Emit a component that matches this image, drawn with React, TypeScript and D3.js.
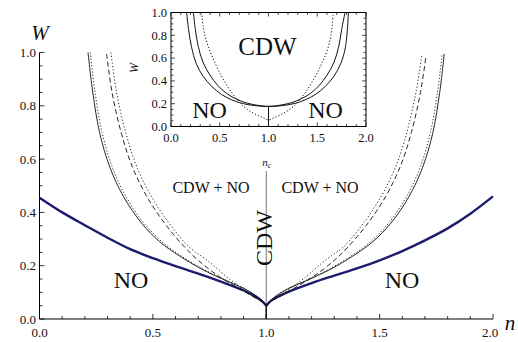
import React from "react";
import * as d3 from "d3";

// ---------- main plot data ----------
const blueLeftN = [0, 0.1, 0.2, 0.3, 0.4, 0.5, 0.6, 0.7, 0.8, 0.9, 0.95, 0.98, 1.0];
const blueLeftW = [0.455, 0.4, 0.352, 0.305, 0.262, 0.228, 0.198, 0.17, 0.14, 0.107, 0.085, 0.068, 0.05];
const blueRightN = [1.0, 1.02, 1.05, 1.1, 1.2, 1.3, 1.4, 1.5, 1.6, 1.7, 1.8, 1.9, 2.0];
const blueRightW = [0.05, 0.068, 0.083, 0.103, 0.135, 0.163, 0.19, 0.22, 0.255, 0.295, 0.34, 0.395, 0.46];

const solidLeftN = [0.214, 0.235, 0.265, 0.31, 0.37, 0.45, 0.53, 0.62, 0.72, 0.82, 0.9, 0.95, 0.98, 1.0];
const solidLeftW = [1.0, 0.85, 0.7, 0.57, 0.46, 0.36, 0.29, 0.235, 0.185, 0.145, 0.115, 0.09, 0.07, 0.05];
const dot1LeftN = [0.224, 0.245, 0.276, 0.321, 0.381, 0.46, 0.54, 0.628, 0.727, 0.825, 0.903, 0.952, 0.981, 1.0];
const dot1LeftW = [1.0, 0.85, 0.7, 0.57, 0.46, 0.36, 0.29, 0.235, 0.185, 0.145, 0.115, 0.09, 0.07, 0.05];
const dashLeftN = [0.296, 0.32, 0.36, 0.41, 0.48, 0.56, 0.64, 0.7, 0.8, 0.9, 0.95, 0.98, 1.0];
const dashLeftW = [0.995, 0.85, 0.7, 0.57, 0.45, 0.35, 0.27, 0.22, 0.155, 0.105, 0.08, 0.065, 0.05];
const dot2LeftN = [0.315, 0.34, 0.38, 0.43, 0.5, 0.58, 0.66, 0.74, 0.83, 0.91, 0.955, 0.982, 1.0];
const dot2LeftW = [1.0, 0.85, 0.7, 0.57, 0.45, 0.35, 0.27, 0.22, 0.155, 0.105, 0.08, 0.065, 0.05];

const solidRightN = [1.0, 1.02, 1.05, 1.1, 1.18, 1.28, 1.38, 1.47, 1.55, 1.63, 1.69, 1.735, 1.765, 1.785];
const solidRightW = [0.05, 0.07, 0.09, 0.115, 0.145, 0.185, 0.235, 0.29, 0.36, 0.46, 0.57, 0.7, 0.85, 0.995];
const dot1RightN = [1.0, 1.019, 1.048, 1.097, 1.175, 1.273, 1.372, 1.46, 1.54, 1.619, 1.679, 1.724, 1.755, 1.776];
const dot1RightW = [0.05, 0.07, 0.09, 0.115, 0.145, 0.185, 0.235, 0.29, 0.36, 0.46, 0.57, 0.7, 0.85, 0.995];
const dashRightN = [1.0, 1.02, 1.05, 1.1, 1.2, 1.3, 1.36, 1.44, 1.52, 1.59, 1.64, 1.68, 1.705];
const dashRightW = [0.05, 0.065, 0.08, 0.105, 0.155, 0.22, 0.27, 0.35, 0.45, 0.57, 0.7, 0.85, 0.99];
const dot2RightN = [1.0, 1.018, 1.045, 1.09, 1.17, 1.26, 1.34, 1.42, 1.5, 1.57, 1.62, 1.66, 1.686];
const dot2RightW = [0.05, 0.065, 0.08, 0.105, 0.155, 0.22, 0.27, 0.35, 0.45, 0.57, 0.7, 0.85, 0.99];

const mainXTicks = ["0.0", "0.5", "1.0", "1.5", "2.0"];
const mainYTicks = ["0.0", "0.2", "0.4", "0.6", "0.8", "1.0"];

// ---------- inset data ----------
const inOuterN = [0.161, 0.18, 0.21, 0.26, 0.33, 0.42, 0.52, 0.62, 0.72, 0.82, 0.92, 1.0, 1.08, 1.18, 1.28, 1.38, 1.48, 1.58, 1.67, 1.74, 1.79, 1.82];
const inOuterW = [1.0, 0.85, 0.7, 0.55, 0.44, 0.35, 0.28, 0.235, 0.205, 0.188, 0.178, 0.175, 0.178, 0.188, 0.205, 0.235, 0.28, 0.35, 0.44, 0.55, 0.7, 1.0];
const inInnerN = [0.23, 0.25, 0.28, 0.33, 0.4, 0.48, 0.57, 0.66, 0.76, 0.86, 0.94, 1.0, 1.06, 1.14, 1.24, 1.34, 1.43, 1.52, 1.6, 1.67, 1.72, 1.75, 1.785];
const inInnerW = [1.0, 0.85, 0.7, 0.56, 0.45, 0.36, 0.29, 0.245, 0.21, 0.19, 0.18, 0.177, 0.18, 0.19, 0.21, 0.245, 0.29, 0.36, 0.45, 0.56, 0.7, 0.85, 1.0];
const inDotN = [0.315, 0.33, 0.36, 0.4, 0.45, 0.5, 0.56, 0.62, 0.68, 0.74, 0.8, 0.87, 0.94, 1.0, 1.06, 1.13, 1.2, 1.26, 1.32, 1.38, 1.44, 1.5, 1.55, 1.6, 1.64, 1.665];
const inDotW = [1.0, 0.88, 0.76, 0.66, 0.56, 0.47, 0.38, 0.3, 0.235, 0.18, 0.14, 0.105, 0.078, 0.058, 0.078, 0.105, 0.14, 0.18, 0.235, 0.3, 0.38, 0.47, 0.56, 0.66, 0.8, 1.0];

const insetXTicks = ["0.0", "0.5", "1.0", "1.5", "2.0"];
const insetYTicks = ["0.0", "0.2", "0.4", "0.6", "0.8", "1.0"];

const SERIF = "'Liberation Serif', 'Times New Roman', serif";
const NAVY = "#1c1c6e";

function zip(ns: number[], ws: number[]): [number, number][] {
  return ns.map((n, i) => [n, ws[i]]);
}

export default function App() {
  const W = 518, H = 342;
  // main scales
  const x = d3.scaleLinear().domain([0, 2]).range([39.5, 493]);
  const y = d3.scaleLinear().domain([0, 1]).range([319, 52.5]);
  // inset scales
  const ix = d3.scaleLinear().domain([0, 2]).range([171, 366]);
  const iy = d3.scaleLinear().domain([0, 1]).range([126.5, 12.5]);

  const line = d3.line<[number, number]>().x(d => x(d[0])).y(d => y(d[1])).curve(d3.curveCatmullRom.alpha(0.5));
  const iline = d3.line<[number, number]>().x(d => ix(d[0])).y(d => iy(d[1])).curve(d3.curveCatmullRom.alpha(0.5));

  const xMinor = d3.range(0, 21).map(i => i / 10);
  const yMinor = d3.range(0, 21).map(i => i / 20);

  const blackCurves = [
    { d: zip(solidLeftN, solidLeftW), dash: "none" },
    { d: zip(dot1LeftN, dot1LeftW), dash: "1.2,2" },
    { d: zip(dashLeftN, dashLeftW), dash: "5,3" },
    { d: zip(dot2LeftN, dot2LeftW), dash: "1.2,2.2" },
    { d: zip(solidRightN, solidRightW), dash: "none" },
    { d: zip(dot1RightN, dot1RightW), dash: "1.2,2" },
    { d: zip(dashRightN, dashRightW), dash: "5,3" },
    { d: zip(dot2RightN, dot2RightW), dash: "1.2,2.2" },
  ];

  return (
    <svg width={W} height={H} style={{ position: "absolute", left: 0, top: 0, background: "#fff" }} fontFamily={SERIF}>
      <rect x={0} y={0} width={W} height={H} fill="#fff" />
      {/* main axes */}
      <line x1={x(0)} x2={x(2)} y1={y(0)} y2={y(0)} stroke="#000" strokeWidth={1} />
      <line x1={x(0)} x2={x(0)} y1={y(0)} y2={y(1)} stroke="#000" strokeWidth={1} />
      {xMinor.map((v, i) => (
        <line key={"xm" + i} x1={x(v)} x2={x(v)} y1={y(0)} y2={y(0) - (i % 5 === 0 ? 5 : 3)} stroke="#000" strokeWidth={0.8} />
      ))}
      {yMinor.map((v, i) => (
        <line key={"ym" + i} x1={x(0)} x2={x(0) + (i % 4 === 0 ? 5 : 3)} y1={y(v)} y2={y(v)} stroke="#000" strokeWidth={0.8} />
      ))}
      {mainXTicks.map(t => (
        <text key={"xt" + t} x={x(+t) - (t === "2.0" ? 3 : 0)} y={337} fontSize={13} textAnchor="middle" fill="#111">{t}</text>
      ))}
      {mainYTicks.map(t => (
        <text key={"yt" + t} x={36} y={y(+t) + 4.5} fontSize={13} textAnchor="end" fill="#111">{t}</text>
      ))}
      <text x={40} y={40} fontSize={21} fontStyle="italic" textAnchor="middle" fill="#111">W</text>
      <text x={510} y={330} fontSize={21} fontStyle="italic" textAnchor="middle" fill="#111">n</text>

      {/* n_c vertical line */}
      <line x1={x(1)} x2={x(1)} y1={171} y2={y(0)} stroke="#777" strokeWidth={1} />
      <text x={x(1) - 4} y={166} fontSize={11} fontStyle="italic" fill="#111">n<tspan fontSize={8} dy={2}>c</tspan></text>

      {/* blue boundaries */}
      <path d={line(zip(blueLeftN, blueLeftW)) || ""} fill="none" stroke={NAVY} strokeWidth={2.4} />
      <path d={line(zip(blueRightN, blueRightW)) || ""} fill="none" stroke={NAVY} strokeWidth={2.4} />

      {/* black boundaries */}
      {blackCurves.map((c, i) => (
        <path key={"bc" + i} d={line(c.d) || ""} fill="none" stroke="#111" strokeWidth={0.9} strokeDasharray={c.dash} />
      ))}
      <line x1={x(1)} x2={x(1)} y1={y(0.05)} y2={y(0)} stroke="#111" strokeWidth={1.5} />

      {/* main labels */}
      <text x={211} y={193} fontSize={16} textAnchor="middle" fill="#111">CDW + NO</text>
      <text x={320} y={193} fontSize={16} textAnchor="middle" fill="#111">CDW + NO</text>
      <text transform={`translate(264,238) rotate(-90)`} fontSize={24} textAnchor="middle" dominantBaseline="central" fill="#111">CDW</text>
      <text x={131} y={288} fontSize={24} textAnchor="middle" fill="#111">NO</text>
      <text x={402} y={288} fontSize={24} textAnchor="middle" fill="#111">NO</text>

      {/* inset */}
      <g>
        <defs>
          <clipPath id="insetClip">
            <rect x={ix(0)} y={iy(1)} width={ix(2) - ix(0)} height={iy(0) - iy(1)} />
          </clipPath>
        </defs>
        <rect x={ix(0)} y={iy(1)} width={ix(2) - ix(0)} height={iy(0) - iy(1)} fill="#fff" stroke="#000" strokeWidth={1} />
        {xMinor.map((v, i) => (
          <g key={"ixm" + i}>
            <line x1={ix(v)} x2={ix(v)} y1={iy(0)} y2={iy(0) - (i % 5 === 0 ? 4 : 2.5)} stroke="#000" strokeWidth={0.7} />
            <line x1={ix(v)} x2={ix(v)} y1={iy(1)} y2={iy(1) + (i % 5 === 0 ? 4 : 2.5)} stroke="#000" strokeWidth={0.7} />
          </g>
        ))}
        {yMinor.map((v, i) => (
          <g key={"iym" + i}>
            <line x1={ix(0)} x2={ix(0) + (i % 4 === 0 ? 4 : 2.5)} y1={iy(v)} y2={iy(v)} stroke="#000" strokeWidth={0.7} />
            <line x1={ix(2)} x2={ix(2) - (i % 4 === 0 ? 4 : 2.5)} y1={iy(v)} y2={iy(v)} stroke="#000" strokeWidth={0.7} />
          </g>
        ))}
        {insetXTicks.map(t => (
          <text key={"ixt" + t} x={ix(+t)} y={142} fontSize={12.5} textAnchor="middle" fill="#111">{t}</text>
        ))}
        {insetYTicks.map(t => (
          <text key={"iyt" + t} x={167} y={iy(+t) + 4.3} fontSize={12.5} textAnchor="end" fill="#111">{t}</text>
        ))}
        <text transform={`translate(134,68) rotate(-90)`} fontSize={12} fontStyle="italic" textAnchor="middle" dominantBaseline="central" fill="#111">W</text>
        <g clipPath="url(#insetClip)">
          <path d={iline(zip(inOuterN, inOuterW)) || ""} fill="none" stroke="#111" strokeWidth={1} />
          <path d={iline(zip(inInnerN, inInnerW)) || ""} fill="none" stroke="#111" strokeWidth={1} />
          <path d={iline(zip(inDotN, inDotW)) || ""} fill="none" stroke="#111" strokeWidth={1} strokeDasharray="1.2,2" />
          <line x1={ix(1)} x2={ix(1)} y1={iy(0.177)} y2={iy(0)} stroke="#111" strokeWidth={1} />
        </g>
        <text x={267.5} y={55} fontSize={25} textAnchor="middle" fill="#111">CDW</text>
        <text x={209.5} y={118} fontSize={24} textAnchor="middle" fill="#111">NO</text>
        <text x={325.5} y={118} fontSize={24} textAnchor="middle" fill="#111">NO</text>
      </g>
    </svg>
  );
}
